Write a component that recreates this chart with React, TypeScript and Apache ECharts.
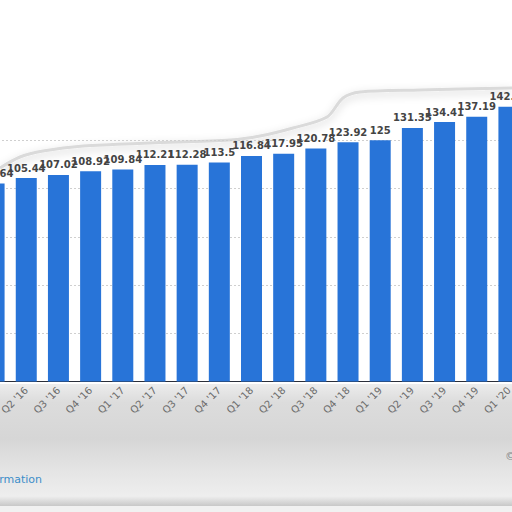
import React, { useEffect, useRef } from "react";
import * as echarts from "echarts";

const categories = [
  "Q1 '16", "Q2 '16", "Q3 '16", "Q4 '16",
  "Q1 '17", "Q2 '17", "Q3 '17", "Q4 '17",
  "Q1 '18", "Q2 '18", "Q3 '18", "Q4 '18",
  "Q1 '19", "Q2 '19", "Q3 '19", "Q4 '19",
  "Q1 '20",
];
const values = [
  102.64, 105.44, 107.02, 108.92,
  109.84, 112.21, 112.28, 113.5,
  116.84, 117.95, 120.78, 123.92,
  125, 131.35, 134.41, 137.19,
  142.36,
];
const gridValues = [25, 50, 75, 100, 125];
const yMax = 150;

export default function App() {
  const ref = useRef<HTMLDivElement>(null);
  useEffect(() => {
    if (!ref.current) return;
    const chart = echarts.init(ref.current, null, { renderer: "svg" });
    chart.setOption({
      animation: false,
      backgroundColor: "#ffffff",
      grid: {
        left: -22,
        right: -13,
        top: 92,
        bottom: 130.5,
        containLabel: false,
        outerBoundsMode: "none",
      },
      xAxis: {
        type: "category",
        data: categories,
        axisTick: { show: false },
        axisLine: { lineStyle: { color: "#2b2f3a", width: 1 } },
        axisLabel: {
          rotate: 45,
          margin: 7,
          fontSize: 10,
          color: "#6b6b6b",
          fontFamily: "DejaVu Sans",
          interval: 0,
        },
      },
      yAxis: {
        type: "value",
        min: 0,
        max: yMax,
        interval: 25,
        axisLabel: { show: false },
        axisLine: { show: false },
        axisTick: { show: false },
        splitLine: { show: false },
      },
      series: [
        {
          type: "bar",
          data: values,
          barWidth: 21,
          itemStyle: { color: "#2874d8" },
          label: {
            show: true,
            position: "top",
            distance: 5,
            fontSize: 10,
            fontWeight: "bold",
            color: "#444444",
            fontFamily: "DejaVu Sans",
          },
          markLine: {
            silent: true,
            symbol: "none",
            label: { show: false },
            lineStyle: { color: "#cfcfcf", type: [2, 2], width: 1 },
            emphasis: { disabled: true },
            data: gridValues.map((v) => ({ yAxis: v })),
            z: 1,
          },
        },
      ],
      graphic: [
        {
          type: "rect",
          z: -10,
          shape: { x: 0, y: 384, width: 512, height: 122 },
          style: {
            fill: new echarts.graphic.LinearGradient(0, 0, 0, 1, [
              { offset: 0, color: "#ececec" },
              { offset: 0.15, color: "#dcdcdc" },
              { offset: 0.45, color: "#d6d6d6" },
              { offset: 0.7, color: "#e4e4e4" },
              { offset: 0.92, color: "#eeeeee" },
              { offset: 1, color: "#c8c8c8" },
            ]),
          },
        },
        {
          type: "rect",
          z: -10,
          shape: { x: 0, y: 506, width: 512, height: 6 },
          style: { fill: "#f1f1f1" },
        },
        {
          type: "line",
          z: -9,
          shape: { x1: 0, y1: 505, x2: 512, y2: 505 },
          style: { stroke: "#9a9a9a", lineWidth: 1.5, shadowBlur: 3, shadowColor: "rgba(0,0,0,0.3)" },
        },
        {
          type: "polyline",
          z: -5,
          shape: {
            points: [
              [0, 168], [20, 157], [43, 151], [83, 146], [150, 143], [230, 140],
              [260, 136], [293, 128], [327, 117], [343, 98], [360, 92], [420, 90], [512, 88],
            ],
            smooth: 0.3,
          },
          style: {
            stroke: "#dadada",
            lineWidth: 3,
            fill: null,
            shadowBlur: 8,
            shadowOffsetY: 3,
            shadowColor: "rgba(0,0,0,0.2)",
          },
        },
        {
          type: "text",
          z: 5,
          x: 42,
          y: 479,
          style: {
            text: "Additional Information",
            fill: "#3d8ec9",
            fontSize: 11,
            fontFamily: "DejaVu Sans",
            align: "right",
            verticalAlign: "middle",
          },
        },
        {
          type: "text",
          z: 5,
          x: 505,
          y: 456,
          style: {
            text: "© Statista 2020",
            fill: "#8a8a8a",
            fontSize: 11,
            fontFamily: "DejaVu Sans",
            align: "left",
            verticalAlign: "middle",
          },
        },
      ],
    });
    return () => chart.dispose();
  }, []);
  return (
    <div
      ref={ref}
      style={{ position: "fixed", left: 0, top: 0, width: 512, height: 512 }}
    />
  );
}
